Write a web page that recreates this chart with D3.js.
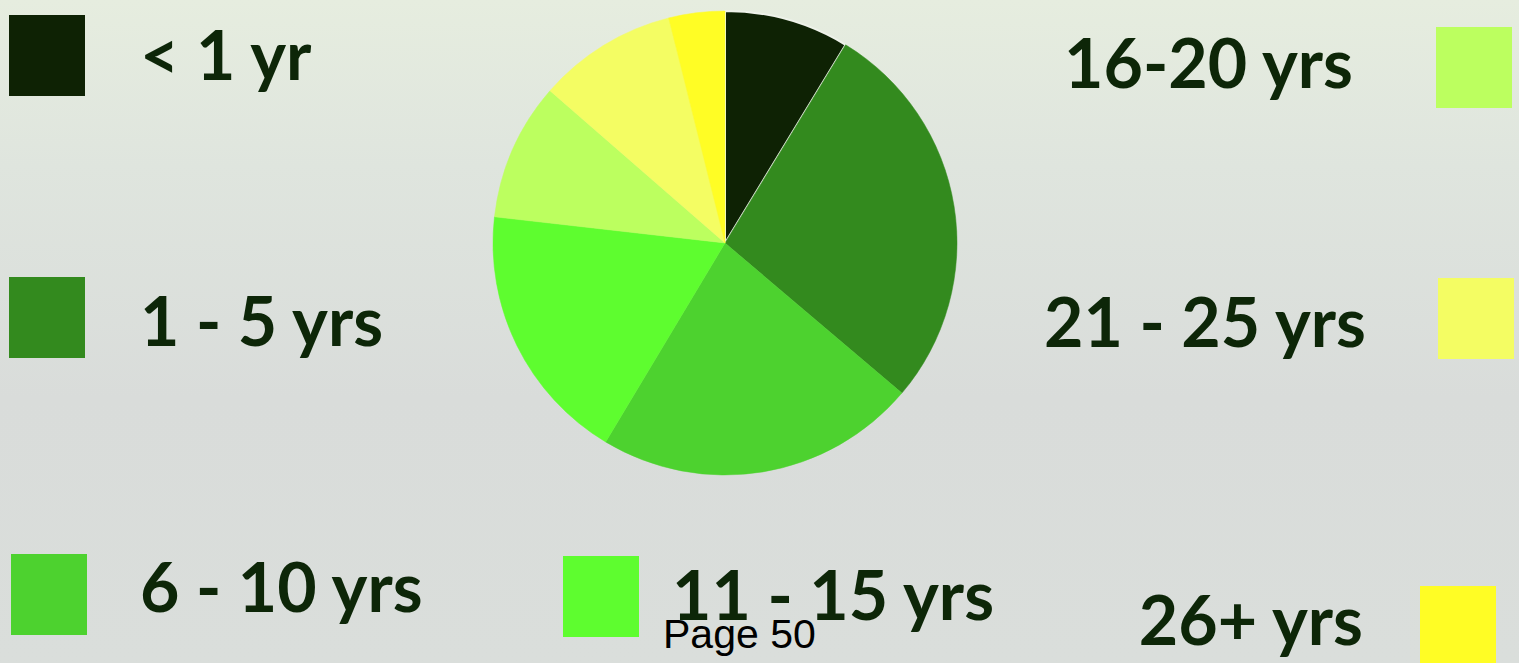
<!DOCTYPE html>
<html>
<head>
<meta charset="utf-8">
<script src="https://cdn.jsdelivr.net/npm/d3@7"></script>
<style>
  html, body { margin: 0; padding: 0; overflow: hidden; }
  svg { display: block; }
</style>
</head>
<body>
<div id="chart"></div>
<script>
// years of service, share of staff (%)
const categories = ['< 1 yr', '1 - 5 yrs', '6 - 10 yrs', '11 - 15 yrs', '16-20 yrs', '21 - 25 yrs', '26+ yrs'];
const values = [8.7, 27.5, 22.4, 18.2, 9.6, 9.7, 3.9];
const colors = ['#0e2204', '#338a1e', '#4dd22f', '#5efd2f', '#bcff5f', '#f4fd63', '#fffd25'];

const width = 1519;
const height = 663;

// where each legend entry sits: swatch box + text anchor
const legendLayout = [
  { sx: 9,    sy: 15,  tx: 140,  ty: 80,  anchor: 'start' },
  { sx: 9,    sy: 277, tx: 140,  ty: 346, anchor: 'start' },
  { sx: 11,   sy: 554, tx: 140,  ty: 612, anchor: 'start' },
  { sx: 563,  sy: 556, tx: 672,  ty: 620, anchor: 'start' },
  { sx: 1436, sy: 27,  tx: 1353, ty: 88,  anchor: 'end' },
  { sx: 1438, sy: 278, tx: 1366, ty: 347, anchor: 'end' },
  { sx: 1420, sy: 586, tx: 1363, ty: 645, anchor: 'end' }
];

const svg = d3.select('#chart')
  .append('svg')
  .attr('width', width)
  .attr('height', height)
  .attr('viewBox', [0, 0, width, height]);

//faded photo background
const defs = svg.append('defs');
const grad = defs.append('linearGradient')
  .attr('id', 'bg')
  .attr('x1', 0).attr('y1', 0).attr('x2', 0).attr('y2', 1);
grad.append('stop').attr('offset', '0%').attr('stop-color', '#e6eddf');
grad.append('stop').attr('offset', '25%').attr('stop-color', '#dfe5de');
grad.append('stop').attr('offset', '60%').attr('stop-color', '#d9dcda');
grad.append('stop').attr('offset', '100%').attr('stop-color', '#dadedb');

svg.append('rect')
  .attr('width', width)
  .attr('height', height)
  .attr('fill', 'url(#bg)');

// pie
const radius = 232;
const pie = d3.pie().sort(null).value(d => d.value);
const arc = d3.arc().innerRadius(0).outerRadius(radius);

const slices = categories.map((c, i) => ({ name: c, value: values[i], color: colors[i] }));

svg.append('g')
  .attr('transform', 'translate(725,243)')
  .selectAll('path')
  .data(pie(slices))
  .join('path')
    .attr('d', arc)
    .attr('fill', d => d.data.color)
    .attr('stroke', d => d.index === 0 ? '#eef2ea' : d.data.color)
    .attr('stroke-width', d => d.index === 0 ? 2 : 0.5);

// legend
const legend = svg.append('g');

legend.selectAll('rect')
  .data(slices)
  .join('rect')
    .attr('x', (d, i) => legendLayout[i].sx)
    .attr('y', (d, i) => legendLayout[i].sy)
    .attr('width', 76)
    .attr('height', 81)
    .attr('fill', d => d.color);

legend.selectAll('text')
  .data(slices)
  .join('text')
    .attr('x', (d, i) => legendLayout[i].tx)
    .attr('y', (d, i) => legendLayout[i].ty)
    .attr('text-anchor', (d, i) => legendLayout[i].anchor)
    .attr('font-family', 'Lato, "Open Sans", sans-serif')
    .attr('font-weight', 'bold')
    .attr('font-size', 68)
    .attr('fill', '#0d2608')
    .text(d => d.name);

svg.append('text')
  .attr('x', 663)
  .attr('y', 648)
  .attr('font-family', '"Liberation Sans", Arial, sans-serif')
  .attr('font-size', 41)
  .attr('fill', '#000')
  .text('Page 50');
</script>
</body>
</html>
